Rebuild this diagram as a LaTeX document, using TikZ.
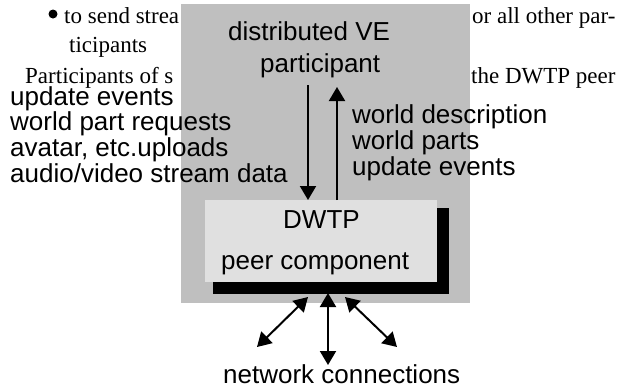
\documentclass[tikz,border=0pt]{standalone}
\usepackage{fontspec}
\setmainfont{Liberation Serif}
\setsansfont{Liberation Sans}
\usetikzlibrary{arrows.meta}
\definecolor{panelgray}{gray}{0.75}
\definecolor{boxgray}{gray}{0.88}
\begin{document}
\begin{tikzpicture}[x=1pt,y=-1pt,
  body/.style={font=\fontsize{23}{23}\selectfont\rmfamily, anchor=base west, inner sep=0pt},
  lbl/.style={font=\fontsize{26}{26}\selectfont\sffamily, anchor=base west, inner sep=0pt},
  arr/.style={line width=2pt, -{Triangle[width=16pt,length=14pt]}},
  darr/.style={line width=2pt, {Triangle[width=16pt,length=14pt]}-{Triangle[width=16pt,length=14pt]}},
  panel/.style={anchor=north west, inner sep=0pt}]
\useasboundingbox (0,0) rectangle (621,389);

% surrounding body text of the page
\node[circle, fill=black, inner sep=0pt, minimum size=9pt] (bullet) at (53,14) {};
\node[body] (t1) at (64,23) {to send strea};
\node[body] (t2) at (69,52) {ticipants};
\node[body] (t3) at (25,83) {Participants of s};
\node[body] (t4) at (472,23) {or all other par-};
\node[body] (t5) at (471,83) {the DWTP peer};

% participant panel, shadow and peer component box
\node[panel, fill=panelgray, minimum width=289pt, minimum height=299pt] (ve) at (181,4) {};
\node[panel, fill=black, minimum width=236pt, minimum height=86pt] (shadow) at (213,208) {};
\node[panel, fill=boxgray, minimum width=232pt, minimum height=82pt] (dwtp) at (205,200) {};

% labels
\node[lbl] (ve1) at (228,40) {distributed VE};
\node[lbl] (ve2) at (260,72) {participant};
\node[lbl] (d1) at (283,228) {DWTP};
\node[lbl] (d2) at (221,269) {peer component};

\node[lbl] (l1) at (10,105) {update events};
\node[lbl] (l2) at (10,130) {world part requests};
\node[lbl] (l3) at (10,156) {avatar, etc.uploads};
\node[lbl] (l4) at (10,182) {audio/video stream data};

\node[lbl] (r1) at (352,123) {world description};
\node[lbl] (r2) at (352,149) {world parts};
\node[lbl] (r3) at (352,175) {update events};

\node[lbl] (net) at (223,383) {network connections};

% data flow between participant and peer component
\coordinate (downstart) at (308,85);
\coordinate (uptip) at (337,87);
\draw[arr] (downstart) -- (downstart |- dwtp.north);
\draw[arr] (uptip |- dwtp.north) -- (uptip);

% network connections
\coordinate (s1) at (308,297);
\coordinate (s2) at (328,293);
\coordinate (s3) at (345,297);
\coordinate (n1) at (257,347);
\coordinate (n2) at (328,365);
\coordinate (n3) at (397,347);
\draw[darr] (s1) -- (n1);
\draw[darr] (s2) -- (n2);
\draw[darr] (s3) -- (n3);
\end{tikzpicture}
\end{document}
